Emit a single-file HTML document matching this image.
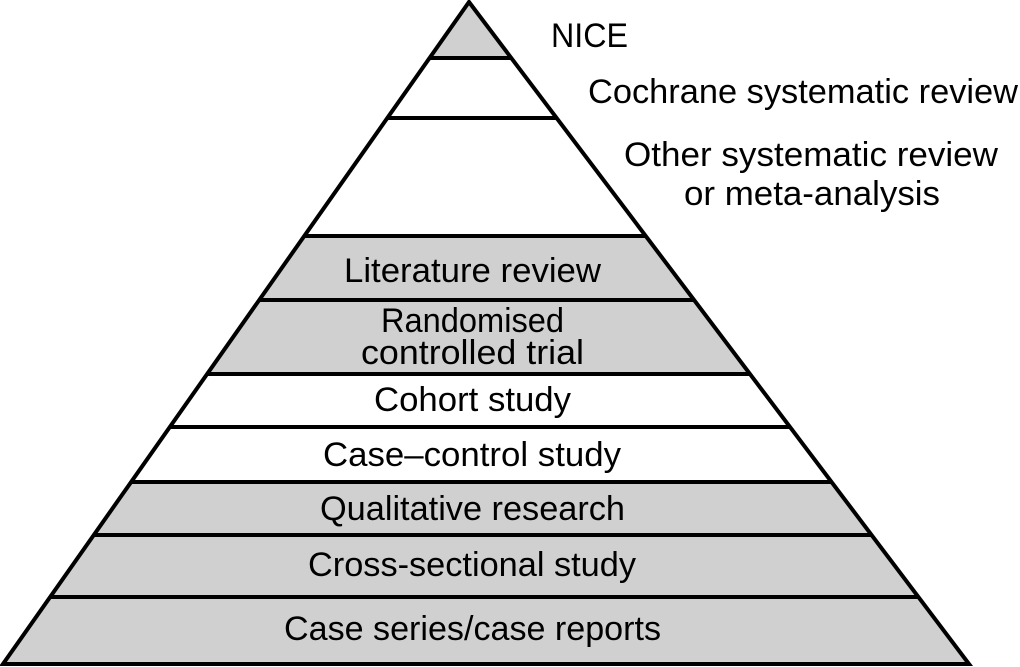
<!DOCTYPE html>
<html><head><style>html,body{margin:0;padding:0;background:#fff}svg{display:block}</style></head>
<body>
<svg width="1020" height="667" viewBox="0 0 1020 667" xmlns="http://www.w3.org/2000/svg" font-family="'Liberation Sans', 'DejaVu Sans', sans-serif" font-size="34" fill="#000">
<g fill="#d0d0d0">
<polygon points="469,2 429.6,58 511.3,58"/>
<polygon points="304.3,236 645.7,236 750,374 207.2,374"/>
<polygon points="131.1,482 831.5,482 969,664 3,664"/>
</g>
<g stroke="#000" stroke-width="4">
<line x1="429.6" y1="58" x2="511.3" y2="58"/>
<line x1="387.3" y1="118" x2="556.6" y2="118"/>
<line x1="304.3" y1="236" x2="645.7" y2="236"/>
<line x1="259.2" y1="300" x2="694.1" y2="300"/>
<line x1="207.2" y1="374" x2="750" y2="374"/>
<line x1="169.8" y1="427" x2="790" y2="427"/>
<line x1="131.1" y1="482" x2="831.5" y2="482"/>
<line x1="93.8" y1="535" x2="871.6" y2="535"/>
<line x1="50.2" y1="597" x2="918.4" y2="597"/>
<polygon points="469,2 969,664 3,664" fill="none" stroke-linejoin="miter"/>
</g>
<g>
<text x="551" y="47" textLength="77" lengthAdjust="spacingAndGlyphs">NICE</text>
<text x="588" y="103" textLength="430" lengthAdjust="spacingAndGlyphs">Cochrane systematic review</text>
<text x="624" y="166" textLength="374" lengthAdjust="spacingAndGlyphs">Other systematic review</text>
<text x="684" y="205" textLength="256" lengthAdjust="spacingAndGlyphs">or meta-analysis</text>
<text x="344" y="282" textLength="257" lengthAdjust="spacingAndGlyphs">Literature review</text>
<text x="381" y="332" textLength="183" lengthAdjust="spacingAndGlyphs">Randomised</text>
<text x="361" y="364" textLength="223" lengthAdjust="spacingAndGlyphs">controlled trial</text>
<text x="374" y="411" textLength="197" lengthAdjust="spacingAndGlyphs">Cohort study</text>
<text x="323" y="466" textLength="298" lengthAdjust="spacingAndGlyphs">Case–control study</text>
<text x="320" y="520" textLength="305" lengthAdjust="spacingAndGlyphs">Qualitative research</text>
<text x="308" y="576" textLength="328" lengthAdjust="spacingAndGlyphs">Cross-sectional study</text>
<text x="284" y="640" textLength="377" lengthAdjust="spacingAndGlyphs">Case series/case reports</text>
</g>
</svg>
</body></html>
